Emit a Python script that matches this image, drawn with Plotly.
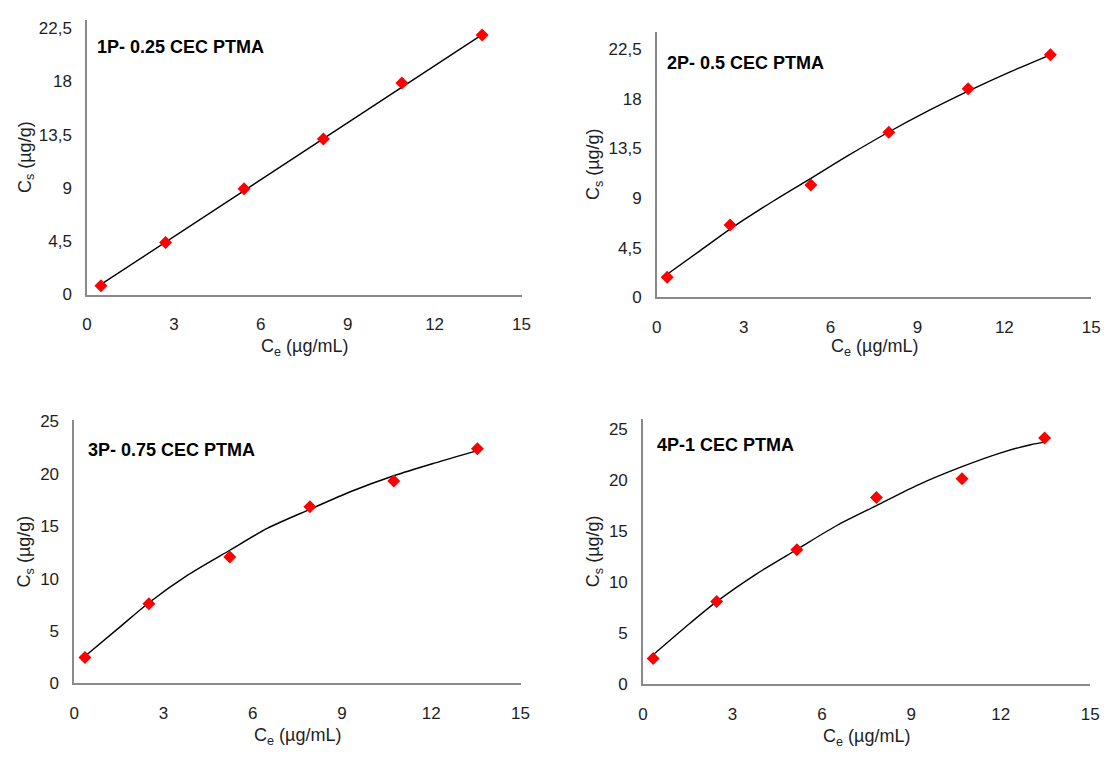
import plotly.graph_objects as go

# The page body has an 8px margin, so the figure is drawn 8px smaller and
# all reference pixel positions are shifted by that margin.
OFF = 8
W, H = 1119 - OFF, 758 - OFF

# ---------------- data ----------------
titles = ["1P- 0.25 CEC PTMA", "2P- 0.5 CEC PTMA", "3P- 0.75 CEC PTMA", "4P-1 CEC PTMA"]

ce_1p = [0.48, 2.71, 5.42, 8.16, 10.87, 13.64]
cs_1p = [0.74, 4.40, 8.93, 13.13, 17.86, 21.92]
fit_ce_1p = [0.48, 13.64]
fit_cs_1p = [0.85, 21.95]

ce_2p = [0.36, 2.53, 5.32, 8.01, 10.75, 13.59]
cs_2p = [1.83, 6.57, 10.20, 14.97, 18.93, 22.00]
fit_ce_2p = [0.36, 1.5, 2.53, 4.0, 5.32, 6.6, 8.01, 9.4, 10.75, 12.2, 13.59]
fit_cs_2p = [2.1, 4.25, 6.2, 8.7, 10.8, 12.85, 15.0, 16.95, 18.7, 20.45, 22.0]

ce_3p = [0.36, 2.51, 5.23, 7.92, 10.74, 13.55]
cs_3p = [2.48, 7.59, 12.05, 16.85, 19.30, 22.37]
fit_ce_3p = [0.36, 1.5, 2.51, 3.8, 5.23, 6.5, 7.92, 9.3, 10.74, 12.1, 13.55]
fit_cs_3p = [2.6, 5.3, 7.7, 10.3, 12.7, 14.8, 16.6, 18.3, 19.8, 21.0, 22.2]

ce_4p = [0.34, 2.47, 5.16, 7.83, 10.70, 13.47]
cs_4p = [2.55, 8.12, 13.18, 18.28, 20.13, 24.10]
fit_ce_4p = [0.34, 1.4, 2.47, 3.8, 5.16, 6.5, 7.83, 9.25, 10.7, 12.0, 13.0, 13.47]
fit_cs_4p = [2.9, 5.55, 8.1, 10.8, 13.2, 15.55, 17.5, 19.55, 21.3, 22.65, 23.45, 23.7]

x_ticks = [0, 3, 6, 9, 12, 15]
x_ticktext = ["0", "3", "6", "9", "12", "15"]
y_ticks_a = [0, 4.5, 9, 13.5, 18, 22.5]
y_ticktext_a = ["0", "4,5", "9", "13,5", "18", "22,5"]
y_ticks_b = [0, 5, 10, 15, 20, 25]
y_ticktext_b = ["0", "5", "10", "15", "20", "25"]

x_title = "C<sub>e</sub> (µg/mL)"
y_title = "C<sub>s</sub> (µg/g)"

# ---------------- layout geometry (reference pixels) ----------------
panels = [
    dict(px=(83, 523), py=(13, 294), yr=23.2, yt=(y_ticks_a, y_ticktext_a),
         ce=ce_1p, cs=cs_1p, fx=fit_ce_1p, fy=fit_cs_1p, tpos=(0.28, 20.95),
         ytx=21, xty=348, shape="linear"),
    dict(px=(660, 1100), py=(25, 297), yr=24.1, yt=(y_ticks_a, y_ticktext_a),
         ce=ce_2p, cs=cs_2p, fx=fit_ce_2p, fy=fit_cs_2p, tpos=(0.30, 21.3),
         ytx=597, xty=348, shape="spline"),
    dict(px=(70, 522), py=(422, 692), yr=25.15, yt=(y_ticks_b, y_ticktext_b),
         ce=ce_3p, cs=cs_3p, fx=fit_ce_3p, fy=fit_cs_3p, tpos=(0.40, 22.3),
         ytx=21, xty=746, shape="spline"),
    dict(px=(646, 1099), py=(421, 693), yr=26.0, yt=(y_ticks_b, y_ticktext_b),
         ce=ce_4p, cs=cs_4p, fx=fit_ce_4p, fy=fit_cs_4p, tpos=(0.42, 23.4),
         ytx=597, xty=747, shape="spline"),
]

FONT = "Liberation Sans, Arial, sans-serif"
TXT = "#1e1e1e"
AXC = "#8a8a8a"

fig = go.Figure()
layout = dict(
    width=W, height=H,
    margin=dict(l=0, r=0, t=0, b=0),
    paper_bgcolor="white", plot_bgcolor="white",
    showlegend=False,
    font=dict(family=FONT, size=17, color=TXT),
)
annotations = []


def fx(p):
    return (p - OFF) / W


def fy(p):
    return 1 - (p - OFF) / H


for i, p in enumerate(panels):
    n = "" if i == 0 else str(i + 1)
    xa, ya = "x" + n, "y" + n
    fig.add_trace(go.Scatter(
        x=p["fx"], y=p["fy"], mode="lines", xaxis=xa, yaxis=ya,
        line=dict(color="black", width=1.4, shape=p["shape"], smoothing=0.8),
        hoverinfo="skip"))
    fig.add_trace(go.Scatter(
        x=p["ce"], y=p["cs"], mode="markers", xaxis=xa, yaxis=ya,
        marker=dict(symbol="diamond", size=10, color="#ff0000",
                    line=dict(width=0)),
        cliponaxis=False))

    x0, x1 = p["px"]
    y0, y1 = p["py"]
    layout["xaxis" + n] = dict(
        domain=[fx(x0), fx(x1)], anchor=ya, range=[0, 15],
        tickmode="array", tickvals=x_ticks, ticktext=x_ticktext,
        showline=True, linecolor=AXC, linewidth=1.5,
        showgrid=False, zeroline=False, ticks="",
        ticklabelstandoff=13,
        tickfont=dict(family=FONT, size=17, color=TXT),
    )
    layout["yaxis" + n] = dict(
        domain=[fy(y1), fy(y0)], anchor=xa, range=[0, p["yr"]],
        tickmode="array", tickvals=p["yt"][0], ticktext=p["yt"][1],
        showline=True, linecolor=AXC, linewidth=1.5,
        showgrid=False, zeroline=False, ticks="",
        ticklabelstandoff=10,
        tickfont=dict(family=FONT, size=17, color=TXT),
    )
    # panel title
    annotations.append(dict(
        text="<b>" + titles[i] + "</b>", xref=xa, yref=ya,
        x=p["tpos"][0], y=p["tpos"][1], xanchor="left", yanchor="middle",
        showarrow=False, font=dict(family=FONT, size=18, color="black")))
    # axis titles
    annotations.append(dict(
        text=x_title, xref="paper", yref="paper",
        x=fx((x0 + x1) / 2), y=fy(p["xty"]),
        xanchor="center", yanchor="middle", showarrow=False,
        font=dict(family=FONT, size=18, color=TXT)))
    annotations.append(dict(
        text=y_title, xref="paper", yref="paper",
        x=fx(p["ytx"]), y=fy((y0 + y1) / 2),
        xanchor="center", yanchor="middle", textangle=-90, showarrow=False,
        font=dict(family=FONT, size=18, color=TXT)))

layout["annotations"] = annotations
fig.update_layout(**layout)
fig.write_html("out.html")
